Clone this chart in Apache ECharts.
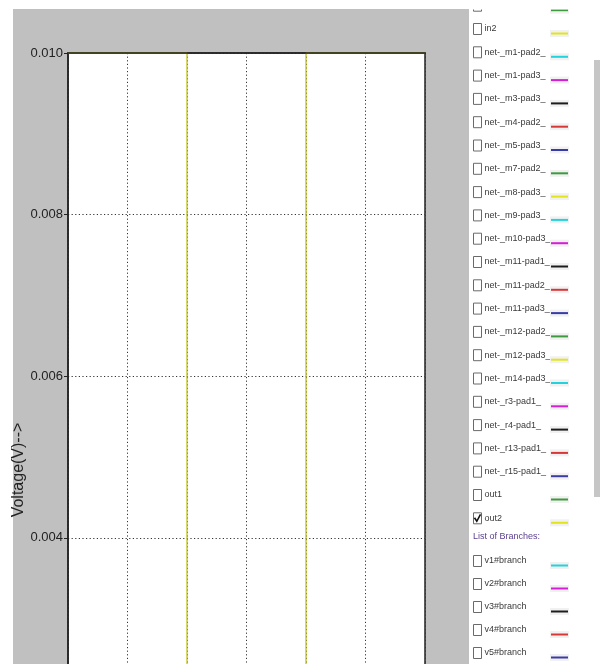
<!DOCTYPE html>
<html>
<head>
<meta charset="utf-8">
<script src="https://cdn.jsdelivr.net/npm/echarts@6/dist/echarts.min.js"></script>
<style>
  html, body { margin: 0; padding: 0; width: 600px; height: 664px; overflow: hidden; background: #fff; }
  #chart { width: 600px; height: 920px; }
</style>
</head>
<body>
<div id="chart"></div>
<script>
// Plotted trace: out2, a square wave between 0 V and 10 mV
const timeAxis = [0, 2, 2, 4, 4, 6];
const out2Volts = [0.010, 0.010, 0.000, 0.000, 0.010, 0.010];

// Voltage axis
const voltMin = 0;
const voltMax = 0.010;
const voltStep = 0.002;

// Time axis
const timeMin = 0;
const timeMax = 6;
const timeStep = 1;

// Side panel: node list and branch list
const nodeNames = [
  'in1', 'in2', 'net-_m1-pad2_', 'net-_m1-pad3_', 'net-_m3-pad3_', 'net-_m4-pad2_',
  'net-_m5-pad3_', 'net-_m7-pad2_', 'net-_m8-pad3_', 'net-_m9-pad3_', 'net-_m10-pad3_',
  'net-_m11-pad1_', 'net-_m11-pad2_', 'net-_m11-pad3_', 'net-_m12-pad2_', 'net-_m12-pad3_',
  'net-_m14-pad3_', 'net-_r3-pad1_', 'net-_r4-pad1_', 'net-_r13-pad1_', 'net-_r15-pad1_',
  'out1', 'out2'
];
const checkedNodes = ['out2'];
const branchTitle = 'List of Branches:';
const branchNames = ['v1#branch', 'v2#branch', 'v3#branch', 'v4#branch', 'v5#branch'];

// Trace colour cycle: green, yellow, cyan, magenta, black, red, blue
const traceColors = ['#3f9a3f', '#e4e41c', '#22d2dc', '#d61ed6', '#1c1c1c', '#d63838', '#3b3ba8'];
const plotLineColor = '#c2c21c';

const panelFont = '9px "Liberation Sans", Arial, sans-serif';
const elements = [];

// white margins around the grey figure area and the white list panel
elements.push({ type: 'rect', shape: { x: 0, y: 0, width: 13, height: 920 }, style: { fill: '#fff' } });
elements.push({ type: 'rect', shape: { x: 0, y: 0, width: 469, height: 9 }, style: { fill: '#fff' } });
elements.push({ type: 'rect', shape: { x: 469, y: 0, width: 131, height: 920 }, style: { fill: '#fff' } });

function addRow(name, color, cy, checked) {
  elements.push({
    type: 'rect', shape: { x: 473.5, y: cy - 5.5, width: 8, height: 11 },
    style: { fill: '#fff', stroke: '#6a6a6a', lineWidth: 1 }
  });
  if (checked) {
    elements.push({
      type: 'polyline', shape: { points: [[474.5, cy - 0.5], [476.8, cy + 3], [480.5, cy - 4]] },
      style: { stroke: '#111', lineWidth: 1.6, fill: null }
    });
  }
  elements.push({
    type: 'text', x: 484.5, y: cy,
    style: { text: name, font: panelFont, fill: '#3a3a3a', align: 'left', verticalAlign: 'middle' }
  });
  elements.push({
    type: 'rect', shape: { x: 550, y: cy + 1, width: 19, height: 7 },
    style: { fill: '#f1f1f1' }
  });
  elements.push({
    type: 'line', shape: { x1: 551, y1: cy + 4.5, x2: 568, y2: cy + 4.5 },
    style: { stroke: color, lineWidth: 2 }
  });
}

nodeNames.forEach((name, i) => {
  addRow(name, traceColors[i % traceColors.length], 5.7 + 23.3 * i, checkedNodes.includes(name));
});

elements.push({
  type: 'text', x: 473, y: 537,
  style: { text: branchTitle, font: panelFont, fill: '#5b3f90', align: 'left', verticalAlign: 'middle' }
});

branchNames.forEach((name, j) => {
  addRow(name, traceColors[(nodeNames.length + j) % traceColors.length], 561 + 23 * j, false);
});

// panel is scrolled: content above its top edge is hidden
elements.push({ type: 'rect', z: 100, shape: { x: 469, y: 0, width: 131, height: 9.5 }, style: { fill: '#fff' } });

// scrollbar
elements.push({ type: 'rect', shape: { x: 594, y: 60, width: 6, height: 437 }, style: { fill: '#c6c6c6' } });

// y axis title
elements.push({
  type: 'text', x: 19, y: 470, rotation: Math.PI / 2,
  style: { text: 'Voltage(V)-->', font: '16px "Liberation Sans", Arial, sans-serif', fill: '#222', align: 'center', verticalAlign: 'middle' }
});

const chart = echarts.init(document.getElementById('chart'), null, { renderer: 'canvas' });

const dotted = { color: '#333', width: 1, type: [1.2, 2.4] };
const frameLine = { show: true, lineStyle: { color: '#222', width: 1.5 } };

chart.setOption({
  animation: false,
  backgroundColor: '#c0c0c0',
  grid: {
    left: 68, top: 53, right: 175, bottom: 59,
    show: true, backgroundColor: '#fff', borderColor: '#222', borderWidth: 1.5
  },
  xAxis: [{
    type: 'value', min: timeMin, max: timeMax, interval: timeStep,
    axisLine: frameLine,
    axisTick: { show: true, inside: false, length: 4, lineStyle: { color: '#222' } },
    axisLabel: { color: '#222', fontSize: 13, fontFamily: 'Liberation Sans' },
    splitLine: { show: true, lineStyle: dotted }
  }, {
    // top frame edge, drawn over the trace
    type: 'value', position: 'top', min: timeMin, max: timeMax, interval: timeStep, z: 5,
    axisLine: frameLine,
    axisTick: { show: false }, axisLabel: { show: false }, splitLine: { show: false }
  }],
  yAxis: {
    type: 'value', min: voltMin, max: voltMax, interval: voltStep,
    axisLine: frameLine,
    axisTick: { show: true, inside: false, length: 4, lineStyle: { color: '#222' } },
    axisLabel: {
      color: '#222', fontSize: 13, fontFamily: 'Liberation Sans', margin: 5,
      formatter: v => v.toFixed(3)
    },
    splitLine: { show: true, lineStyle: dotted }
  },
  series: [{
    name: 'out2',
    type: 'line',
    xAxisIndex: 0,
    data: timeAxis.map((t, i) => [t, out2Volts[i]]),
    showSymbol: false,
    lineStyle: { color: plotLineColor, width: 1.3 },
    clip: false
  }],
  graphic: { elements: elements }
});
</script>
</body>
</html>
